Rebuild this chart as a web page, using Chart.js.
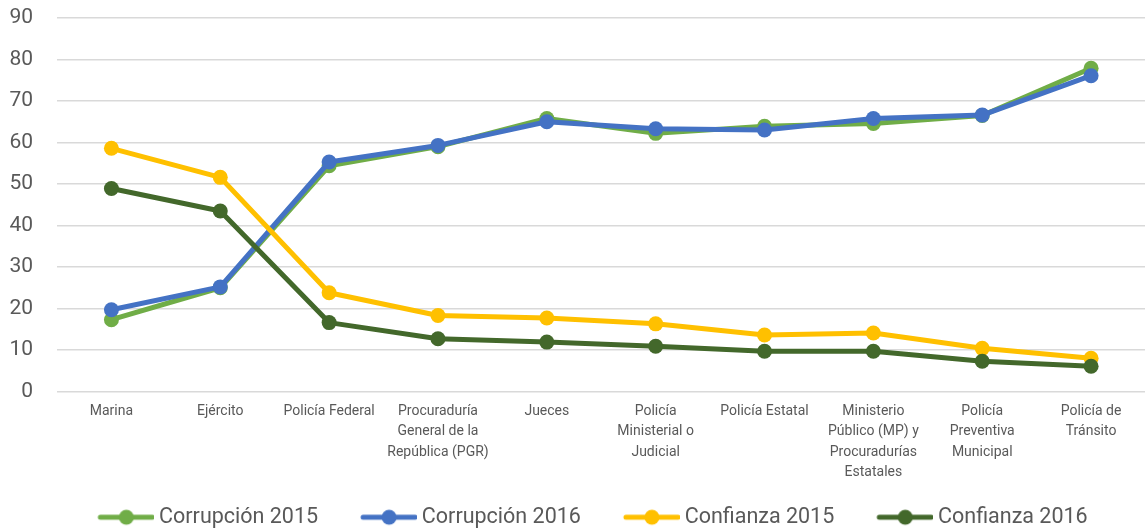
<!DOCTYPE html>
<html>
<head>
<meta charset="utf-8">
<script src="https://cdn.jsdelivr.net/npm/chart.js@4"></script>
<style>
  html, body { margin: 0; padding: 0; background: #fff; overflow: hidden; }
  #wrap { width: 1145px; height: 531px; overflow: hidden; }
</style>
</head>
<body>
<div id="wrap"><canvas id="chart" width="1153" height="538"></canvas></div>
<script>
const categories = [
  "Marina",
  "Ejército",
  "Policía Federal",
  ["Procuraduría", "General de la", "República (PGR)"],
  "Jueces",
  ["Policía", "Ministerial o", "Judicial"],
  "Policía Estatal",
  ["Ministerio", "Público (MP) y", "Procuradurías", "Estatales"],
  ["Policía", "Preventiva", "Municipal"],
  ["Policía de", "Tránsito"],
];

const seriesNames = ["Corrupción 2015", "Corrupción 2016", "Confianza 2015", "Confianza 2016"];
const corrupcion2015 = [17.3, 25.0, 54.4, 59.0, 65.8, 62.2, 63.9, 64.6, 66.5, 77.9];
const corrupcion2016 = [19.7, 25.2, 55.3, 59.3, 65.0, 63.3, 63.0, 65.8, 66.6, 76.1];
const confianza2015 = [58.6, 51.6, 23.8, 18.3, 17.7, 16.3, 13.6, 14.1, 10.4, 8.0];
const confianza2016 = [48.9, 43.5, 16.6, 12.7, 11.9, 10.9, 9.7, 9.7, 7.3, 6.1];
const yTicks = [0, 10, 20, 30, 40, 50, 60, 70, 80, 90];

const colors = ["#70AD47", "#4472C4", "#FFC000", "#43682B"];
const textColor = "#595959";
const fontFamily = "Roboto, 'Open Sans', sans-serif";

// legend marker: a short line with a dot, drawn into a small canvas
function legendMarker(color) {
  const c = document.createElement("canvas");
  c.width = 95;
  c.height = 20;
  const g = c.getContext("2d");
  g.strokeStyle = color;
  g.lineWidth = 5;
  g.lineCap = "round";
  g.beginPath();
  g.moveTo(41, 10);
  g.lineTo(93, 10);
  g.stroke();
  g.fillStyle = color;
  g.beginPath();
  g.arc(67, 10, 7.5, 0, Math.PI * 2);
  g.fill();
  return c;
}

const allSeries = [corrupcion2015, corrupcion2016, confianza2015, confianza2016];

const ctx = document.getElementById("chart").getContext("2d");
const chart = new Chart(ctx, {
  type: "line",
  data: {
    labels: categories,
    datasets: allSeries.map((values, i) => ({
      label: seriesNames[i],
      data: values,
      borderColor: colors[i],
      backgroundColor: colors[i],
      pointBackgroundColor: colors[i],
      pointBorderWidth: 0,
      pointRadius: 7.5,
      borderWidth: 5,
      borderJoinStyle: "round",
      borderCapStyle: "round",
      tension: 0,
      order: allSeries.length - i,
    })),
  },
  options: {
    responsive: false,
    animation: false,
    layout: { padding: { top: 18, left: 0, right: 0, bottom: 0 } },
    plugins: {
      tooltip: { enabled: false },
      legend: {
        position: "bottom",
        labels: {
          usePointStyle: true,
          pointStyleWidth: 83,
          padding: 10,
          color: textColor,
          font: { family: fontFamily, size: 21.5 },
          generateLabels: function (chart) {
            return chart.data.datasets.map((ds, i) => ({
              text: ds.label,
              fillStyle: colors[i],
              strokeStyle: colors[i],
              fontColor: textColor,
              lineWidth: 0,
              pointStyle: legendMarker(colors[i]),
              datasetIndex: i,
            }));
          },
        },
      },
    },
    scales: {
      x: {
        offset: true,
        grid: { display: false, drawTicks: false },
        border: { display: false },
        ticks: {
          maxRotation: 0,
          autoSkip: false,
          padding: 10,
          color: textColor,
          font: { family: fontFamily, size: 14, lineHeight: 1.45 },
        },
        afterFit: function (scale) {
          scale.height = 105;
        },
      },
      y: {
        min: 0,
        max: 90,
        afterBuildTicks: function (scale) {
          scale.ticks = yTicks.map((v) => ({ value: v }));
        },
        grid: { color: "#D9D9D9", lineWidth: 1.5, drawTicks: false },
        border: { display: false },
        ticks: {
          padding: 24,
          color: textColor,
          font: { family: fontFamily, size: 21 },
        },
        afterFit: function (scale) {
          scale.width = 57;
          // the tick padding should only push labels sideways
          scale.paddingTop = 0;
          scale.paddingBottom = 0;
        },
      },
    },
  },
});
</script>
</body>
</html>
